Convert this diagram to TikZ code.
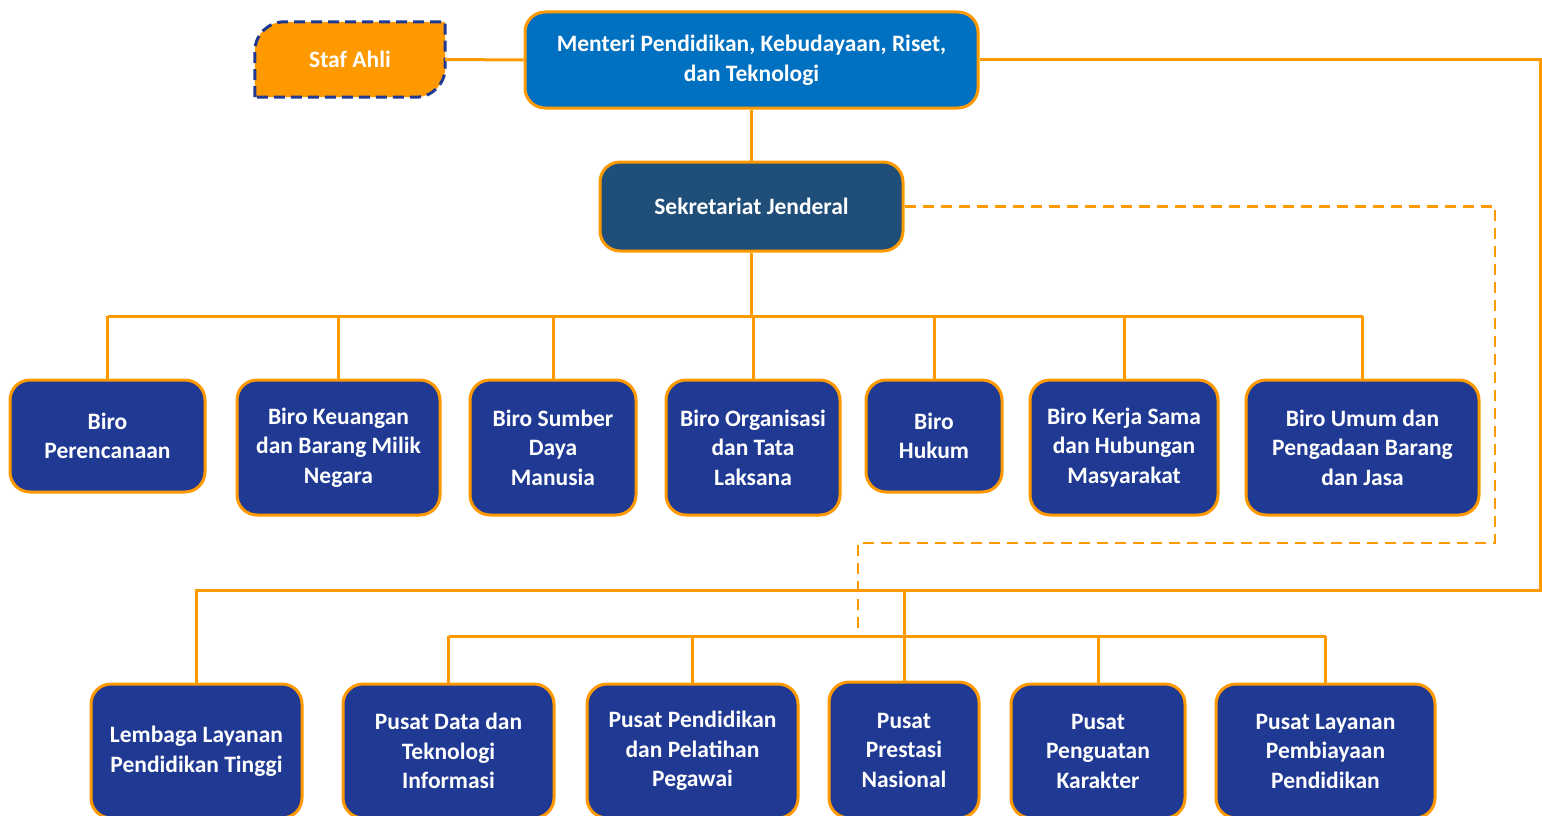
\documentclass[tikz,border=0pt]{standalone}
\usepackage{fontspec}
\setmainfont{Carlito}
\usetikzlibrary{backgrounds}

\definecolor{orgline}{HTML}{FF9900}
\definecolor{stafblue}{HTML}{203A94}
\definecolor{biroblue}{HTML}{203A94}
\definecolor{menblue}{HTML}{0070C0}
\definecolor{sekblue}{HTML}{1F4E79}

\tikzset{
  unit/.style={draw=orgline, line width=3pt, rounded corners=20pt, fill=biroblue,
    text=white, align=center, inner sep=0pt,
    font=\fontsize{23.5}{29.5}\selectfont\bfseries},
  link/.style={draw=orgline, line width=3pt},
  dashlink/.style={draw=orgline, line width=2.5pt, dash pattern=on 11pt off 7pt},
}

\begin{document}
\begin{tikzpicture}[x=1pt,y=-1pt]
		\useasboundingbox (0,0) rectangle (1542,816);
		% Top
			\node [unit, fill=menblue, minimum width=453pt, minimum height=96pt] (menteri) at (751.5,60) {Menteri Pendidikan, Kebudayaan, Riset,\\dan Teknologi};
			\node [unit, fill=sekblue, minimum width=303pt, minimum height=89pt] (sekjen) at (751.5,206.5) {Sekretariat Jenderal};
			\node [text=white, inner sep=0pt, minimum width=190pt, minimum height=75pt, font=\fontsize{23.5}{29.5}\selectfont\bfseries] (staf) at (350,59.5) {Staf Ahli};
			\begin{scope}[on background layer]
			\draw [draw=stafblue, fill=orgline, line width=3pt, dash pattern=on 11pt off 6pt]
				(staf.south west) -- ([yshift=-30pt]staf.north west)
				.. controls ([yshift=-13pt]staf.north west) and ([xshift=13pt]staf.north west) .. ([xshift=30pt]staf.north west)
				-- (staf.north east) -- ([yshift=30pt]staf.south east)
				.. controls ([yshift=13pt]staf.south east) and ([xshift=-13pt]staf.south east) .. ([xshift=-30pt]staf.south east)
				-- cycle;
			\end{scope}
			
		% Biro
			\node [unit, minimum width=195pt, minimum height=112pt] (biro1) at (107.5,436) {Biro\\Perencanaan};
			\node [unit, minimum width=203pt, minimum height=135pt] (biro2) at (338.5,447.5) {Biro Keuangan\\dan Barang Milik\\Negara};
			\node [unit, minimum width=166pt, minimum height=135pt] (biro3) at (553,447.5) {Biro Sumber\\Daya\\Manusia};
			\node [unit, minimum width=174pt, minimum height=135pt] (biro4) at (753,447.5) {Biro Organisasi\\dan Tata\\Laksana};
			\node [unit, minimum width=136pt, minimum height=112pt] (biro5) at (934,436) {Biro\\Hukum};
			\node [unit, minimum width=188pt, minimum height=135pt] (biro6) at (1124,447.5) {Biro Kerja Sama\\dan Hubungan\\Masyarakat};
			\node [unit, minimum width=233pt, minimum height=135pt] (biro7) at (1362.5,447.5) {Biro Umum dan\\Pengadaan Barang\\dan Jasa};
			
		% Pusat
			\node [unit, minimum width=211pt, minimum height=134pt] (pusat0) at (196.5,751) {Lembaga Layanan\\Pendidikan Tinggi};
			\node [unit, minimum width=211pt, minimum height=134pt] (pusat1) at (448.5,751) {Pusat Data dan\\Teknologi\\Informasi};
			\node [unit, minimum width=211pt, minimum height=134pt] (pusat2) at (692.5,751) {Pusat Pendidikan\\dan Pelatihan\\Pegawai};
			\node [unit, minimum width=150pt, minimum height=136pt] (pusat3) at (904,750) {Pusat\\Prestasi\\Nasional};
			\node [unit, minimum width=174pt, minimum height=134pt] (pusat4) at (1098,751) {Pusat\\Penguatan\\Karakter};
			\node [unit, minimum width=219pt, minimum height=134pt] (pusat5) at (1325.5,751) {Pusat Layanan\\Pembiayaan\\Pendidikan};
			
		% Lines
			\coordinate (bus1) at (751.5,316);
			\coordinate (bus2) at (904,636);
			\coordinate (rtcorner) at (1540,590);
			\coordinate (dashcorner) at (1495,543);
			\coordinate (dashend) at (858,633);
			
			\draw [link] (staf.east) -- (menteri.west);
			\draw [link] (menteri.south) -- (sekjen.north);
			\draw [link] (sekjen.south) -- (bus1);
			\draw [link] (biro1.north |- bus1) -- (biro7.north |- bus1);
			\foreach \i in {1,...,7}
				\draw [link] (biro\i.north) -- (biro\i.north |- bus1);
			
			\draw [link] (menteri.east) -| (rtcorner) -| (pusat0.north);
			\draw [link] (pusat3.north) -- (pusat3.north |- rtcorner);
			\draw [link] (pusat1.north |- bus2) -- (pusat5.north |- bus2);
			\foreach \i in {1,2,4,5}
				\draw [link] (pusat\i.north) -- (pusat\i.north |- bus2);
			
			\draw [dashlink] (sekjen.east) -| (dashcorner) -| (dashend);
			
		\end{tikzpicture}
\end{document}
